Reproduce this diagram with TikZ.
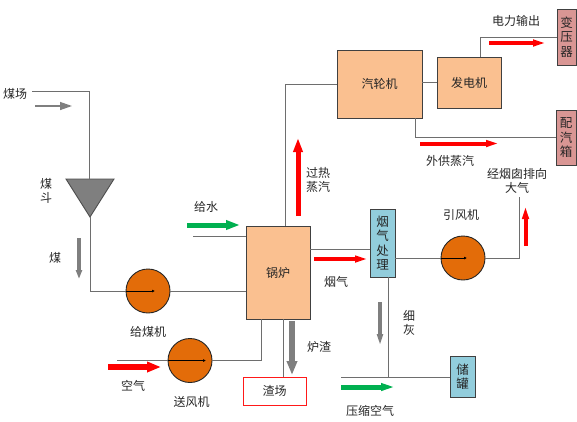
\documentclass[tikz,border=0pt]{standalone}
\usepackage{fontspec}
\setmainfont{Noto Sans CJK SC}
\usepackage{tikz}
\usetikzlibrary{arrows.meta}
\usetikzlibrary{calc}
\definecolor{boilerfill}{HTML}{FAC090}
\definecolor{fanfill}{HTML}{E36C09}
\definecolor{cleanfill}{HTML}{92CDDC}
\definecolor{elecfill}{HTML}{D99694}
\definecolor{pipegray}{HTML}{6E6E6E}
\definecolor{flowgray}{HTML}{7F7F7F}
\definecolor{flowgreen}{HTML}{00B050}
\tikzset{
	label/.style={inner sep=0pt, align=center, text=black!85, font=\fontsize{12}{14}\selectfont},
	plant/.style={label, draw=black!75, line width=0.9pt, fill=boilerfill},
	cleaner/.style={plant, fill=cleanfill, font=\fontsize{12.5}{14.5}\selectfont},
	elecbox/.style={plant, fill=elecfill, font=\fontsize{12.5}{14.5}\selectfont},
	fan/.style={draw=black!85, line width=0.9pt, fill=fanfill, circle, inner sep=0pt, minimum size=44pt},
	pipe/.style={draw=pipegray, line width=1pt},
	shaft/.style={draw=black, line width=0.7pt, -{Latex[length=3pt,width=3pt]}},
	redflow/.style={draw=red, line width=4pt, -{Triangle[length=7pt,width=8pt]}},
	greenflow/.style={draw=flowgreen, line width=4pt, -{Triangle[length=7pt,width=8pt]}},
	grayflow/.style={draw=flowgray, line width=4pt, -{Triangle[length=9pt,width=6pt]}},
}
\begin{document}
\begin{tikzpicture}[x=1pt,y=-1pt]
\useasboundingbox (0,0) rectangle (577,421);

% main equipment
\node[plant, minimum width=64pt, minimum height=93pt] (boiler) at (278,272.5) {锅炉};
\node[plant, minimum width=85pt, minimum height=68pt] (turbine) at (379.5,84) {汽轮机};
\node[plant, minimum width=64pt, minimum height=51pt] (generator) at (469,82.5) {发电机};
\node[elecbox, minimum width=19pt, minimum height=56pt] (transformer) at (566.5,37) {变\\压\\器};
\node[elecbox, minimum width=20pt, minimum height=55pt] (steambox) at (566,137.5) {配\\汽\\箱};
\node[cleaner, minimum width=25pt, minimum height=68pt] (fluebox) at (382.5,243) {烟\\气\\处\\理};
\node[cleaner, minimum width=25pt, minimum height=41pt] (tank) at (462.5,376.5) {储\\罐};
\node[label, draw=red!90, line width=0.7pt, minimum width=63pt, minimum height=28pt] (slagyard) at (274.5,391) {渣场};
\node[fan] (coalfan) at (148,291) {};
\node[fan] (airfan) at (190,360.5) {};
\node[fan] (draftfan) at (463,258) {};

% hopper
\coordinate (hopleft) at (66,179);
\coordinate (hopright) at (114,179);
\coordinate (hopapex) at (90,217);
\coordinate (hoptop) at (89,179);
\draw[draw=black!70, line width=0.9pt, fill=flowgray] (hopleft)--(hopright)--(hopapex)--cycle;

% free ends and branch points of the pipes
\coordinate (yardend) at (32,91);
\coordinate (airstart) at (117,360.5);
\coordinate (airin) at (261,319);
\coordinate (waterstart) at (193,236);
\coordinate (steamout) at (285,226);
\coordinate (powerout) at (480,57);
\coordinate (powerbend) at (480,37);
\coordinate (extractout) at (415,118);
\coordinate (flueout) at (388,277);
\coordinate (airend) at (341,377);
\coordinate (stackend) at (519,197);
\coordinate (slagout) at (283,319);

% pipes
\draw[pipe] (yardend) -| (hoptop);
\draw[pipe] (hopapex) |- (coalfan.west);
\draw[pipe] (coalfan.east) -- (coalfan.east -| boiler.west);
\draw[pipe] (airstart) -- (airfan.west);
\draw[pipe] (airfan.east) -| (airin);
\draw[pipe] (waterstart) -- (waterstart -| boiler.west);
\draw[pipe] (steamout) |- (turbine.west);
\draw[pipe] (turbine.east |- generator.west) -- (generator.west);
\draw[pipe] (powerout) -- (powerbend) -- (powerbend -| transformer.west);
\draw[pipe] (extractout) |- (steambox.west);
\draw[pipe] (boiler.east |- 0,249) -- (fluebox.west |- 0,249);
\draw[pipe] (fluebox.east |- draftfan.west) -- (draftfan.west);
\draw[pipe] (draftfan.east) -| (stackend);
\draw[pipe] (flueout) -- (flueout |- airend);
\draw[pipe] (airend) -- (airend -| tank.west);
\draw[pipe] (slagout) -- (slagout |- slagyard.north);

% arrows inside the fans
\draw[shaft] (coalfan.west) -- ($(coalfan.center)+(7,0)$);
\draw[shaft] (airfan.west) -- ($(airfan.center)+(16,0)$);
\draw[shaft] (draftfan.west) -- ($(draftfan.center)+(4,0)$);

% flow arrows
\coordinate (f1a) at (35,106);
\coordinate (f1b) at (72,106);
\draw[draw=flowgray, line width=1.3pt, -{Triangle[length=12pt,width=8pt]}] (f1a) -- (f1b);
\coordinate (f2a) at (79,238);
\coordinate (f2b) at (79,279);
\draw[grayflow] (f2a) -- (f2b);
\coordinate (f3a) at (187,225);
\coordinate (f3b) at (240,225);
\draw[greenflow, line width=5pt, -{Triangle[length=14pt,width=9pt]}] (f3a) -- (f3b);
\coordinate (f4a) at (108,367);
\coordinate (f4b) at (161,367);
\draw[redflow, line width=5.5pt, -{Triangle[length=14pt,width=10pt]}] (f4a) -- (f4b);
\coordinate (f5a) at (298,216);
\coordinate (f5b) at (298,138);
\draw[redflow, line width=5pt, -{Triangle[length=14pt,width=9pt]}] (f5a) -- (f5b);
\coordinate (f6a) at (489,43);
\coordinate (f6b) at (547,43);
\draw[redflow, line width=4pt, -{Triangle[length=14pt,width=6pt]}] (f6a) -- (f6b);
\coordinate (f7a) at (420,143.5);
\coordinate (f7b) at (500,143.5);
\draw[redflow, line width=4pt, -{Triangle[length=14pt,width=6pt]}] (f7a) -- (f7b);
\coordinate (f8a) at (314,259);
\coordinate (f8b) at (369,259);
\draw[redflow, line width=4pt, -{Triangle[length=14pt,width=6pt]}] (f8a) -- (f8b);
\coordinate (f9a) at (525.5,246);
\coordinate (f9b) at (525.5,205);
\draw[redflow, line width=4pt, -{Triangle[length=14pt,width=6pt]}] (f9a) -- (f9b);
\coordinate (f10a) at (292,321);
\coordinate (f10b) at (292,375);
\draw[grayflow, line width=6pt, -{Triangle[length=14pt,width=10pt]}] (f10a) -- (f10b);
\coordinate (f11a) at (380,302);
\coordinate (f11b) at (380,346);
\draw[grayflow, line width=4pt, -{Triangle[length=12pt,width=5.5pt]}] (f11a) -- (f11b);
\coordinate (f12a) at (341,387);
\coordinate (f12b) at (395,387);
\draw[greenflow, line width=5pt, -{Triangle[length=14pt,width=7pt]}] (f12a) -- (f12b);

% labels
\node[label] (lyard) at (15,94) {煤场};
\node[label] (lhopper) at (46,191) {煤\\斗};
\node[label] (lcoal) at (55,258) {煤};
\node[label] (lcoalfan) at (148,332) {给煤机};
\node[label] (lair) at (133,386) {空气};
\node[label] (lairfan) at (191.5,402) {送风机};
\node[label] (lwater) at (206,207) {给水};
\node[label] (lslag) at (319,347) {炉渣};
\node[label] (lflue) at (336,282) {烟气};
\node[label] (lash) at (409,323) {细\\灰};
\node[label] (lcompr) at (370,411) {压缩空气};
\node[label] (ldraft) at (461,215) {引风机};
\node[label] (lstack) at (517,180.5) {经烟囱排向\\大气};
\node[label] (lextract) at (450,161) {外供蒸汽};
\node[label] (lsteam) at (318,180) {过热\\蒸汽};
\node[label] (lpower) at (516,21) {电力输出};

\end{tikzpicture}
\end{document}
